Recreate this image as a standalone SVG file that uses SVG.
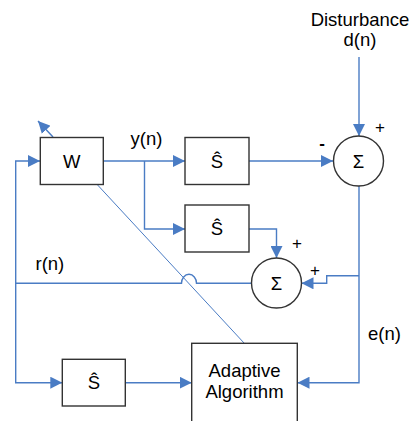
<svg xmlns="http://www.w3.org/2000/svg" width="414" height="421" viewBox="0 0 414 421">
<style>
.box{fill:#fff;stroke:#333;stroke-width:1.4}
.ln{fill:none;stroke:#4a7cc4;stroke-width:1.4}
.t{font-family:"Liberation Sans",Arial,sans-serif;font-size:18.5px;fill:#000}
.c{text-anchor:middle}
.s{font-family:"Liberation Sans",Arial,sans-serif;font-size:17px;fill:#000;text-anchor:middle}
</style>
<defs>
<marker id="ah" viewBox="0 0 12 12" refX="12" refY="6" markerWidth="12" markerHeight="12" markerUnits="userSpaceOnUse" orient="auto">
<path d="M0,0 L12,6 L0,12 Z" fill="#4a7cc4"/>
</marker>
</defs>
<g id="connectors">
<line class="ln" x1="359" y1="57" x2="359" y2="136" marker-end="url(#ah)"/>
<polyline class="ln" points="15.7,283.3 15.7,161 40,161" marker-end="url(#ah)"/>
<line class="ln" x1="53" y1="137" x2="38" y2="121" marker-end="url(#ah)"/>
<line class="ln" x1="103" y1="161" x2="185" y2="161" marker-end="url(#ah)"/>
<polyline class="ln" points="144.5,161 144.5,229 185,229" marker-end="url(#ah)"/>
<line class="ln" x1="249" y1="161" x2="333" y2="161" marker-end="url(#ah)"/>
<polyline class="ln" points="249,229 276.5,229 276.5,258" marker-end="url(#ah)"/>
<polyline class="ln" points="359,186 359,382.7 297.5,382.7" marker-end="url(#ah)"/>
<polyline class="ln" points="359,275.7 326.7,275.7 326.7,283.3 301.5,283.3" marker-end="url(#ah)"/>
<path class="ln" d="M251,283.3 H196.5 A7.5,9 0 0 0 181.5,283.3 H15.7 V382.7 H62.3" marker-end="url(#ah)"/>
<line class="ln" x1="125.3" y1="382.7" x2="191.7" y2="382.7" marker-end="url(#ah)"/>
<line class="ln" x1="96.7" y1="184" x2="244.3" y2="343.3" style="stroke-width:1"/>
</g>
<g id="node-W"><rect class="box" x="40.3" y="137.5" width="63" height="47"/><text class="t c" x="71.8" y="167.5">W</text></g>
<g id="node-S1"><rect class="box" x="185" y="137.5" width="64" height="47"/><text class="t c" x="217" y="167.5">Ŝ</text></g>
<g id="node-S2"><rect class="box" x="185" y="205" width="64" height="47"/><text class="t c" x="217" y="234.5">Ŝ</text></g>
<g id="node-S3"><rect class="box" x="62.3" y="359.3" width="63" height="46.7"/><text class="t c" x="93.8" y="389">Ŝ</text></g>
<g id="node-sum1"><circle class="box" cx="358.5" cy="161" r="25"/><text class="t c" x="358.5" y="167.5">Σ</text></g>
<g id="node-sum2"><circle class="box" cx="276.5" cy="283" r="25"/><text class="t c" x="276.5" y="289.5">Σ</text></g>
<g id="node-adaptive"><rect class="box" x="191.7" y="343.3" width="105.6" height="90"/><text class="t c" x="244.5" y="376.5">Adaptive</text><text class="t c" x="244.5" y="398">Algorithm</text></g>
<g id="labels">
<text class="t c" x="360" y="26">Disturbance</text>
<text class="t c" x="360" y="46">d(n)</text>
<text class="t" x="130.5" y="145">y(n)</text>
<text class="t" x="35.5" y="270">r(n)</text>
<text class="t" x="368" y="339.5">e(n)</text>
<text class="s" x="322" y="149" style="font-weight:bold">-</text>
<text class="s" x="380" y="133">+</text>
<text class="s" x="297" y="249">+</text>
<text class="s" x="315" y="276">+</text>
</g>
</svg>
